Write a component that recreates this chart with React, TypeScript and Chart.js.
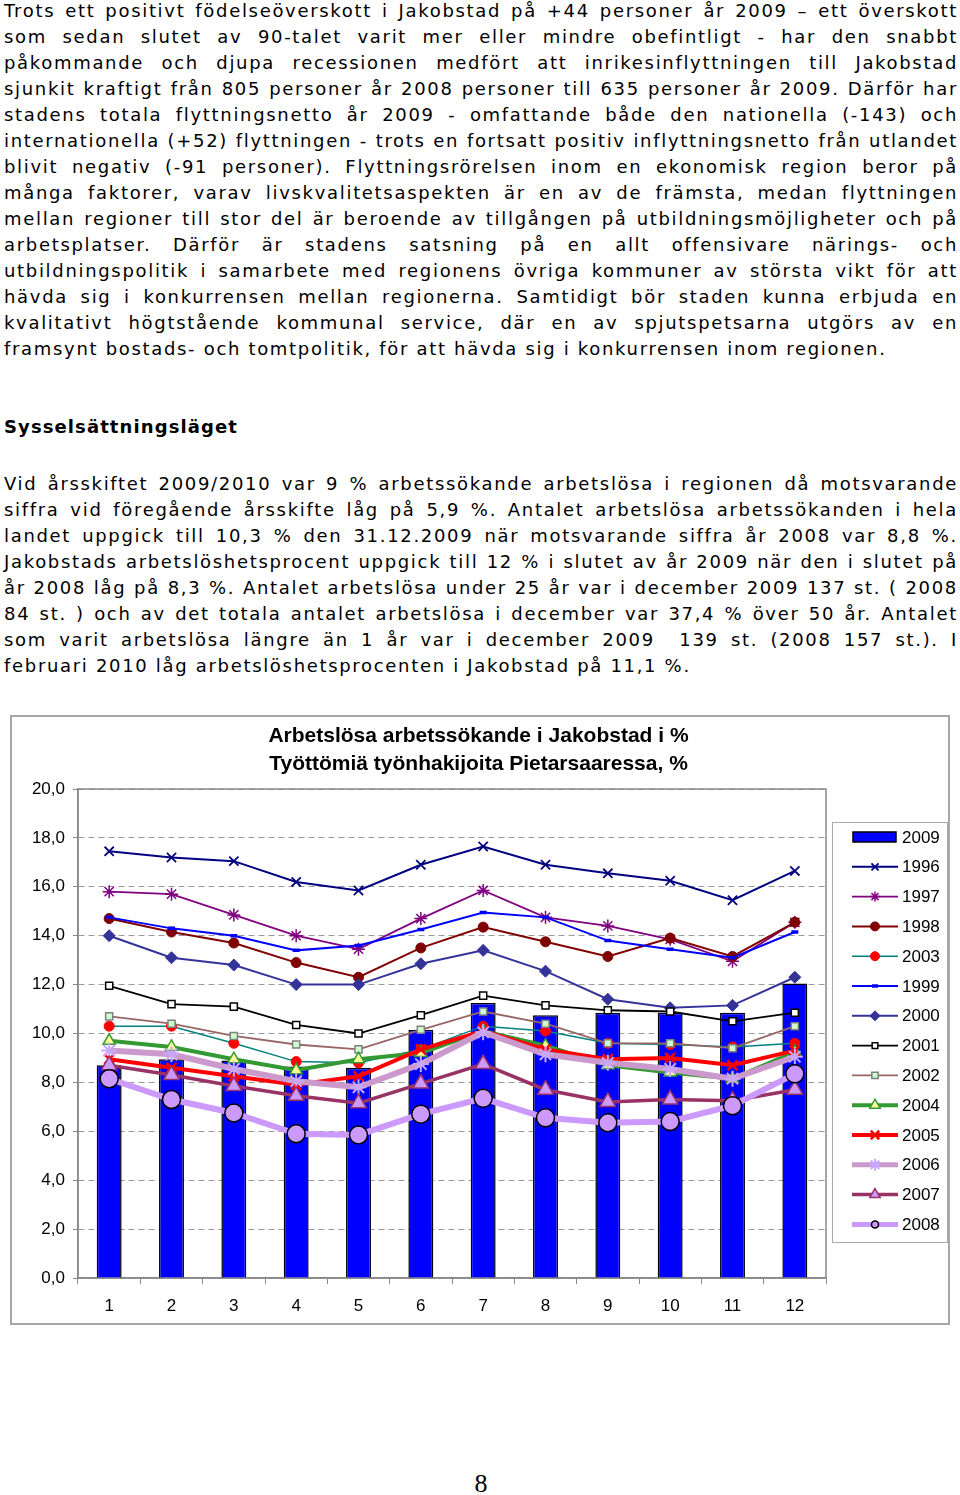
import React, { useEffect, useRef } from 'react';
import { Chart, registerables } from 'chart.js';
import { drawPoint } from 'chart.js/helpers';

Chart.register(...registerables);

// ---------- DATA ----------
const months = ['1', '2', '3', '4', '5', '6', '7', '8', '9', '10', '11', '12'];
const yTickValues = [0, 2, 4, 6, 8, 10, 12, 14, 16, 18, 20];

const v2009 = [8.7, 8.95, 8.9, 8.65, 8.6, 10.15, 11.25, 10.75, 10.85, 10.85, 10.85, 12.05];
const v1996 = [17.45, 17.2, 17.05, 16.2, 15.85, 16.9, 17.65, 16.9, 16.55, 16.25, 15.45, 16.65];
const v1997 = [15.8, 15.7, 14.85, 14.0, 13.45, 14.7, 15.85, 14.75, 14.4, 13.85, 12.95, 14.55];
const v1998 = [14.7, 14.15, 13.7, 12.9, 12.3, 13.5, 14.35, 13.75, 13.15, 13.9, 13.15, 14.55];
const v2003 = [10.3, 10.3, 9.6, 8.85, 8.8, 9.35, 10.3, 10.1, 9.6, 9.55, 9.45, 9.6];
const v1999 = [14.75, 14.3, 14.0, 13.4, 13.6, 14.25, 14.95, 14.75, 13.8, 13.45, 13.1, 14.15];
const v2000 = [14.0, 13.1, 12.8, 12.0, 12.0, 12.85, 13.4, 12.55, 11.4, 11.05, 11.15, 12.3];
const v2001 = [11.95, 11.2, 11.1, 10.35, 10.0, 10.75, 11.55, 11.15, 10.95, 10.9, 10.5, 10.85];
const v2002 = [10.7, 10.4, 9.9, 9.55, 9.35, 10.15, 10.9, 10.4, 9.6, 9.6, 9.4, 10.3];
const v2004 = [9.7, 9.45, 8.95, 8.5, 8.95, 9.2, 10.1, 9.5, 8.7, 8.4, 8.15, 9.25];
const v2005 = [8.95, 8.6, 8.25, 7.9, 8.25, 9.35, 10.1, 9.35, 8.95, 9.0, 8.7, 9.3];
const v2006 = [9.3, 9.15, 8.55, 8.05, 7.8, 8.75, 10.05, 9.15, 8.8, 8.55, 8.15, 9.05];
const v2007 = [8.7, 8.3, 7.85, 7.45, 7.15, 7.95, 8.75, 7.7, 7.2, 7.3, 7.25, 7.7];
const v2008 = [8.15, 7.3, 6.75, 5.9, 5.85, 6.7, 7.35, 6.55, 6.35, 6.4, 7.05, 8.35];

const legendOrder = ['2009', '1996', '1997', '1998', '2003', '1999', '2000', '2001', '2002', '2004', '2005', '2006', '2007', '2008'];

const titleLines = ['Arbetslösa arbetssökande i Jakobstad i %', 'Työttömiä työnhakijoita Pietarsaaressa, %'];

const para1 = [
  'Trots ett positivt födelseöverskott i Jakobstad på +44 personer år 2009 – ett överskott',
  'som sedan slutet av 90-talet varit mer eller mindre obefintligt - har den snabbt',
  'påkommande och djupa recessionen medfört att inrikesinflyttningen till Jakobstad',
  'sjunkit kraftigt från 805 personer år 2008 personer till 635 personer år 2009. Därför har',
  'stadens totala flyttningsnetto år 2009 - omfattande både den nationella (-143) och',
  'internationella (+52) flyttningen - trots en fortsatt positiv inflyttningsnetto från utlandet',
  'blivit negativ (-91 personer). Flyttningsrörelsen inom en ekonomisk region beror på',
  'många faktorer, varav livskvalitetsaspekten är en av de främsta, medan flyttningen',
  'mellan regioner till stor del är beroende av tillgången på utbildningsmöjligheter och på',
  'arbetsplatser. Därför är stadens satsning på en allt offensivare närings- och',
  'utbildningspolitik i samarbete med regionens övriga kommuner av största vikt för att',
  'hävda sig i konkurrensen mellan regionerna. Samtidigt bör staden kunna erbjuda en',
  'kvalitativt högtstående kommunal service, där en av spjutspetsarna utgörs av en',
  'framsynt bostads- och tomtpolitik, för att hävda sig i konkurrensen inom regionen.',
];

const heading = 'Sysselsättningsläget';

const para2 = [
  'Vid årsskiftet 2009/2010 var 9 % arbetssökande arbetslösa i regionen då motsvarande',
  'siffra vid föregående årsskifte låg på 5,9 %. Antalet arbetslösa arbetssökanden i hela',
  'landet uppgick till 10,3 % den 31.12.2009 när motsvarande siffra år 2008 var 8,8 %.',
  'Jakobstads arbetslöshetsprocent uppgick till 12 % i slutet av år 2009 när den i slutet på',
  'år 2008 låg på 8,3 %. Antalet arbetslösa under 25 år var i december 2009 137 st. ( 2008',
  '84 st. ) och av det totala antalet arbetslösa i december var 37,4 % över 50 år. Antalet',
  'som varit arbetslösa längre än 1 år var i december 2009\u00a0 139 st. (2008 157 st.). I',
  'februari 2010 låg arbetslöshetsprocenten i Jakobstad på 11,1 %.',
];

const pageNumber = '8';

// ---------- STYLES ----------
const legendRadius: Record<string, number> = {
  '1996': 5, '1997': 5, '1998': 4.5, '2003': 4.5, '1999': 3, '2000': 5, '2001': 4,
  '2002': 4.5, '2004': 6, '2005': 6, '2006': 6, '2007': 6, '2008': 3.5,
};

function lineDs(label: string, data: number[], color: string, width: number, style: string,
  radius: number, fill: string, border: string, bw: number, order: number) {
  return {
    type: 'line' as const,
    label,
    data,
    borderColor: color,
    backgroundColor: color,
    borderWidth: width,
    pointStyle: style,
    pointRadius: radius,
    pointBackgroundColor: fill,
    pointBorderColor: border,
    pointBorderWidth: bw,
    tension: 0,
    fill: false,
    order,
  };
}

const FONT = '"Liberation Sans", Arial, sans-serif';

function Para({ lines, top }: { lines: string[]; top: number }) {
  return (
    <div style={{ position: 'absolute', left: 4, top, width: 954, font: '18px "DejaVu Sans", sans-serif', lineHeight: '26px', letterSpacing: '1.68px', color: '#000' }}>
      {lines.map((l, i) => (
        <div key={i} style={{ height: 26, whiteSpace: 'nowrap', textAlign: 'justify', textAlignLast: i === lines.length - 1 ? 'left' : 'justify' } as any}>{l}</div>
      ))}
    </div>
  );
}

export default function App() {
  const ref = useRef<HTMLCanvasElement>(null);

  useEffect(() => {
    const framePlugin = {
      id: 'frame',
      beforeDraw(chart: any) {
        const ctx = chart.ctx;
        ctx.save();
        ctx.fillStyle = '#fff';
        ctx.fillRect(0, 0, chart.width, chart.height);
        ctx.strokeStyle = '#a8a8a8';
        ctx.lineWidth = 2;
        ctx.strokeRect(1, 1, chart.width - 2, chart.height - 2);
        ctx.restore();
      },
      beforeDatasetsDraw(chart: any) {
        const { ctx, chartArea: a } = chart;
        ctx.save();
        ctx.strokeStyle = '#888';
        ctx.lineWidth = 1.5;
        ctx.strokeRect(a.left, a.top, a.right - a.left, a.bottom - a.top);
        ctx.restore();
      },
      afterDraw(chart: any) {
        const ctx = chart.ctx;
        ctx.save();
        // title
        ctx.fillStyle = '#000';
        ctx.font = 'bold 21px ' + FONT;
        ctx.textAlign = 'center';
        ctx.textBaseline = 'middle';
        ctx.fillText(titleLines[0], 468.5, 21);
        ctx.fillText(titleLines[1], 468.5, 49);
        // legend box
        ctx.strokeStyle = '#a8a8a8';
        ctx.lineWidth = 1;
        ctx.strokeRect(822.5, 107.5, 115, 420);
        legendOrder.forEach((label, i) => {
          const y = 122 + i * 29.8;
          const ds: any = chart.data.datasets.find((d: any) => d.label === label);
          if (ds.type === 'bar') {
            ctx.fillStyle = ds.backgroundColor;
            ctx.fillRect(843, y - 5, 43, 10);
            ctx.strokeStyle = '#000';
            ctx.lineWidth = 1.5;
            ctx.strokeRect(843, y - 5, 43, 10);
          } else {
            ctx.strokeStyle = ds.borderColor;
            ctx.lineWidth = Math.min(ds.borderWidth, 5);
            ctx.beginPath();
            ctx.moveTo(842, y);
            ctx.lineTo(888, y);
            ctx.stroke();
            ctx.fillStyle = ds.pointBackgroundColor;
            ctx.strokeStyle = ds.pointBorderColor;
            ctx.lineWidth = ds.pointBorderWidth;
            drawPoint(ctx, { pointStyle: ds.pointStyle, radius: legendRadius[label], borderWidth: ds.pointBorderWidth, rotation: 0 } as any, 865, y);
          }
          ctx.fillStyle = '#000';
          ctx.font = '17px ' + FONT;
          ctx.textAlign = 'left';
          ctx.textBaseline = 'middle';
          ctx.fillText(label, 892, y + 1);
        });
        ctx.restore();
      },
    };

    const chart = new Chart(ref.current as HTMLCanvasElement, {
      type: 'bar',
      data: {
        labels: months,
        datasets: [
          {
            type: 'bar', label: '2009', data: v2009, backgroundColor: '#0000ff', borderColor: '#000',
            borderWidth: 1.5, barPercentage: 0.4, categoryPercentage: 1.0, order: 100,
          },
          lineDs('1996', v1996, '#000080', 2, 'crossRot', 6.5, '#000080', '#000080', 1.8, 13),
          lineDs('1997', v1997, '#800080', 1.8, 'star', 6.5, '#800080', '#800080', 1.5, 12),
          lineDs('1998', v1998, '#800000', 2, 'circle', 5, '#800000', '#800000', 1, 11),
          lineDs('2003', v2003, '#008080', 1.5, 'circle', 5, '#ff0000', '#ff0000', 1, 10),
          lineDs('1999', v1999, '#0000ff', 2, 'line', 3.5, '#0000ff', '#0000ff', 3.5, 9),
          lineDs('2000', v2000, '#333399', 2, 'rectRot', 6, '#333399', '#333399', 1, 8),
          lineDs('2001', v2001, '#000000', 1.8, 'rect', 5, '#ffffff', '#000000', 1.5, 7),
          lineDs('2002', v2002, '#996666', 1.8, 'rect', 5, '#ccffcc', '#808080', 1.5, 6),
          lineDs('2004', v2004, '#339933', 4, 'triangle', 7, '#ffff99', '#339933', 1.5, 5),
          lineDs('2005', v2005, '#ff0000', 4, 'crossRot', 7, '#ff0000', '#ff0000', 2.5, 4),
          lineDs('2006', v2006, '#cc99cc', 6, 'star', 8, '#c9a8ff', '#c9a8ff', 2, 3),
          lineDs('2007', v2007, '#993366', 3.5, 'triangle', 9, '#cc99ff', '#993366', 1.5, 2),
          lineDs('2008', v2008, '#cc99ff', 6, 'circle', 9, '#cc99ff', '#000000', 1.5, 1),
        ] as any,
      },
      options: {
        responsive: false,
        animation: false,
        devicePixelRatio: 1,
        layout: { padding: { left: 10, right: 124, top: 74, bottom: 7 } },
        plugins: {
          legend: { display: false },
          title: { display: false },
          tooltip: { enabled: false },
        },
        scales: {
          x: {
            type: 'category',
            offset: true,
            grid: { offset: true, drawOnChartArea: false, drawTicks: true, tickLength: 6, color: '#888', lineWidth: 1 },
            border: { display: true, color: '#888', width: 1.5 },
            ticks: { color: '#000', font: { family: FONT, size: 17 }, padding: 12, maxRotation: 0, autoSkip: false },
            afterFit: (s: any) => { s.height = 40; },
          },
          y: {
            min: 0,
            max: 20,
            afterBuildTicks: (s: any) => { s.ticks = yTickValues.map((v) => ({ value: v })); },
            ticks: {
              color: '#000',
              font: { family: FONT, size: 17 },
              padding: 8,
              callback: (v: any) => Number(v).toFixed(1).replace('.', ','),
            },
            grid: { color: '#9a9a9a', lineWidth: 1, tickLength: 5, tickColor: '#888', tickBorderDash: [] },
            border: { display: true, color: '#888', width: 1.5, dash: [6, 4] },
            afterFit: (s: any) => { s.width = 58; },
          },
        },
      } as any,
      plugins: [framePlugin],
    });
    return () => chart.destroy();
  }, []);

  return (
    <div>
      <Para lines={para1} top={-2} />
      <div style={{ position: 'absolute', left: 4, top: 414, font: 'bold 18px "DejaVu Sans", sans-serif', lineHeight: '26px', letterSpacing: '1.1px', color: '#000' }}>{heading}</div>
      <Para lines={para2} top={471} />
      <canvas ref={ref} width={940} height={610} style={{ position: 'absolute', left: 10, top: 715, width: 940, height: 610 }} />
      <div style={{ position: 'absolute', left: 466, top: 1469, width: 30, textAlign: 'center', font: '26px "Liberation Serif", serif', lineHeight: '30px', color: '#000' }}>{pageNumber}</div>
    </div>
  );
}
